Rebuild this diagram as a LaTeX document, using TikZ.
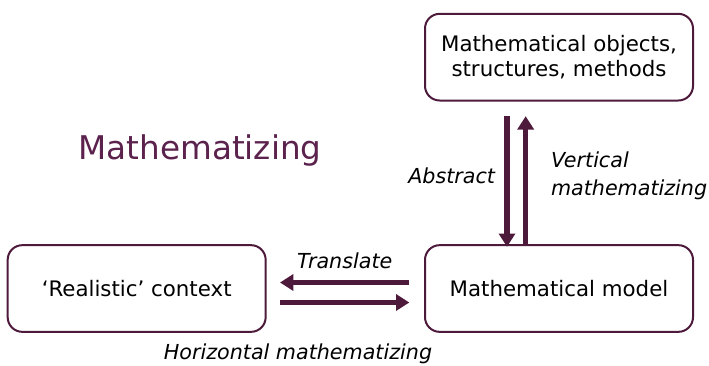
\documentclass[tikz,border=0pt]{standalone}
\usepackage{fontspec}
\setmainfont{DejaVu Sans}
\usepackage{tikz}
\usetikzlibrary{arrows.meta,positioning}
\definecolor{plum}{RGB}{78,26,60}
\definecolor{titleplum}{RGB}{92,34,78}

\begin{document}
\begin{tikzpicture}[x=0.75pt,y=-0.75pt,node distance=1cm,>={Triangle[length=10pt,width=12pt]}, every node/.style={font=\fontsize{16}{19}\selectfont}]
\tikzstyle{box}=[draw=plum, line width=1.5pt, rounded corners=11pt, align=center, minimum width=201pt, minimum height=65pt, fill=white]
\tikzstyle{flow}=[->, draw=plum, fill=plum, line width=4pt]
\tikzstyle{lbl}=[font=\fontsize{15.5}{21}\selectfont\itshape, align=left, inner sep=2pt]
\useasboundingbox (0,0) rectangle (709,365);
\node[box] (model) at (559,288.5) {Mathematical model};
\node[box,above=107pt of model] (objects) {Mathematical objects,\\structures, methods};
\node[box,left=118pt of model,minimum width=193.5pt] (context) {`Realistic' context};
\node[font=\fontsize{24.5}{29}\selectfont, text=titleplum] (title) at (200,150) {Mathematizing};
\draw[flow] ([xshift=-39pt,yshift=-11pt]objects.south) -- node[lbl,left=5pt,yshift=4pt] (abstract) {Abstract} ([xshift=-39pt,yshift=-2pt]model.north);
\draw[flow] ([xshift=-25pt]model.north) -- node[lbl,right=15pt,yshift=3pt] (vertical) {Vertical\\mathematizing} ([xshift=-25pt,yshift=-11pt]objects.south);
\draw[flow] ([xshift=-11pt,yshift=4.5pt]model.west) -- node[lbl,above=6pt] (translate) {Translate} ([xshift=10pt,yshift=4.5pt]context.east);
\draw[flow] ([xshift=10pt,yshift=-10.5pt]context.east) -- ([xshift=-11pt,yshift=-10.5pt]model.west);
\node[lbl] (horizontal) at (298,354) {Horizontal mathematizing};
\end{tikzpicture}
\end{document}
